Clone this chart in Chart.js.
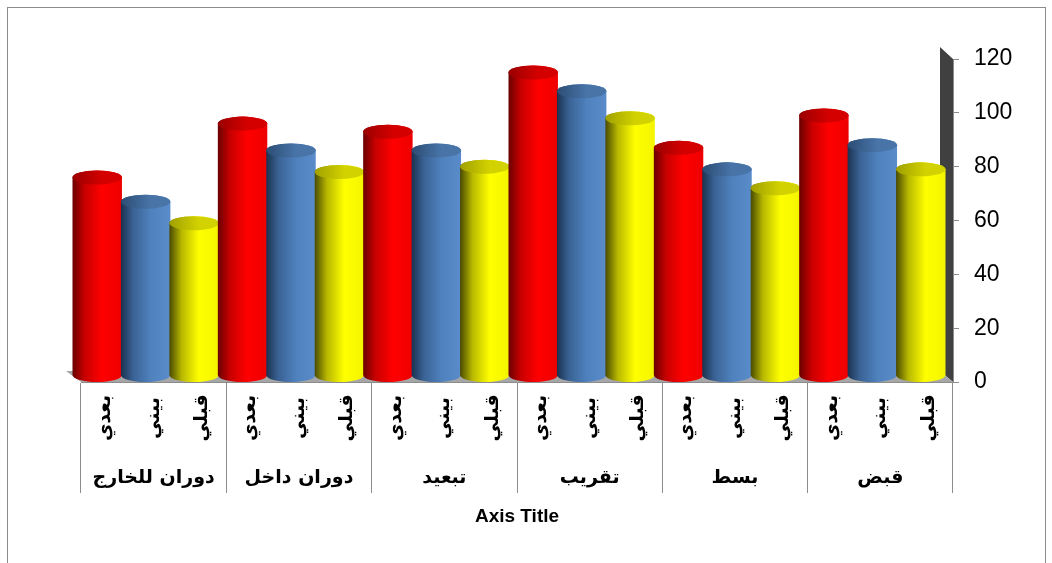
<!DOCTYPE html>
<html lang="ar">
<head>
  <meta charset="UTF-8">
  <title>Cylinder chart</title>
  <script src="https://cdn.jsdelivr.net/npm/chart.js"></script>
  <style>
    html, body { margin: 0; padding: 0; background: #fff; }
    .container { position: relative; width: 1052px; height: 563px; overflow: hidden; }
    .frame { position: absolute; left: 7px; top: 7px; width: 1037px; height: 580px; border: 1px solid #8c8c8c; }
    canvas { position: absolute; left: 0; top: 0; }
  </style>
</head>
<body>
  <div class="container">
    <div class="frame"></div>
    <canvas id="chart" width="1052" height="563"></canvas>
  </div>

  <script>
    // categories, left to right as shown
    const categories = ['دوران للخارج', 'دوران داخل', 'تبعيد', 'تقريب', 'بسط', 'قبض'];
    const seriesNames = ['بعدي', 'بيني', 'قبلي'];
    const postValues = [76, 96, 93, 115, 87, 99];
    const midValues  = [67, 86, 86, 108, 79, 88];
    const preValues  = [59, 78, 80, 98, 72, 79];
    const yMax = 120, yStep = 20;

    // body: dark left edge -> shade -> bright -> edge ; caps a bit darker
    const shades = [
      { dark: '#6a0000', shade: '#c80000', light: '#ff0000', edge: '#ee0000', capL: '#9a0000', capR: '#d40000' },
      { dark: '#1b3250', shade: '#3a6395', light: '#4f81bd', edge: '#5a8ccb', capL: '#2c4d74', capR: '#4874a8' },
      { dark: '#4a4a00', shade: '#b8b800', light: '#ffff00', edge: '#f4f400', capL: '#a0a000', capR: '#d2d200' }
    ];

    function cylinder(ctx, cx, top, bottom, w, c) {
      const rx = w / 2, ry = 7;
      const l = cx - rx, r = cx + rx;
      const g = ctx.createLinearGradient(l, 0, r, 0);
      g.addColorStop(0, c.dark);
      g.addColorStop(0.25, c.shade);
      g.addColorStop(0.6, c.light);
      g.addColorStop(1, c.edge);
      ctx.beginPath();
      ctx.moveTo(l, top);
      ctx.lineTo(l, bottom);
      ctx.ellipse(cx, bottom, rx, ry, 0, Math.PI, 0, true);
      ctx.lineTo(r, top);
      ctx.ellipse(cx, top, rx, ry, 0, 0, -Math.PI, true);
      ctx.closePath();
      ctx.fillStyle = g;
      ctx.fill();

      const cg = ctx.createLinearGradient(l, 0, r, 0);
      cg.addColorStop(0, c.capL);
      cg.addColorStop(0.6, c.capR);
      cg.addColorStop(1, c.capR);
      ctx.beginPath();
      ctx.ellipse(cx, top, rx, ry, 0, 0, Math.PI * 2);
      ctx.fillStyle = cg;
      ctx.fill();
    }

    const cylinders = {
      id: 'cylinders',
      beforeDatasetsDraw(chart) {
        const { ctx, chartArea: a } = chart;
        ctx.save();
        // back wall on the right
        ctx.fillStyle = '#404040';
        ctx.beginPath();
        ctx.moveTo(a.right - 13, a.top - 12);
        ctx.lineTo(a.right, a.top);
        ctx.lineTo(a.right, a.bottom);
        ctx.lineTo(a.right - 13, a.bottom - 11);
        ctx.closePath();
        ctx.fill();
        // floor
        ctx.fillStyle = '#a6a6a6';
        ctx.beginPath();
        ctx.moveTo(a.left - 15, a.bottom - 11);
        ctx.lineTo(a.right - 13, a.bottom - 11);
        ctx.lineTo(a.right, a.bottom);
        ctx.lineTo(a.left, a.bottom);
        ctx.closePath();
        ctx.fill();
        ctx.restore();
      },
      afterDatasetsDraw(chart) {
        const ctx = chart.ctx;
        const base = chart.scales.y.getPixelForValue(0);
        ctx.save();
        for (let j = 0; j < categories.length; j++) {
          chart.data.datasets.forEach((ds, i) => {
            const bar = chart.getDatasetMeta(i).data[j];
            cylinder(ctx, bar.x - 8, bar.y, base - 7, bar.width + 1, shades[i]);
          });
        }
        // rotated series names under each bar
        ctx.fillStyle = '#000';
        ctx.font = 'bold 19px "DejaVu Sans"';
        ctx.textAlign = 'center';
        ctx.textBaseline = 'middle';
        chart.data.datasets.forEach((ds, i) => {
          chart.getDatasetMeta(i).data.forEach(bar => {
            ctx.save();
            ctx.translate(bar.x, 418);
            ctx.rotate(-Math.PI / 2);
            ctx.fillText(ds.label, 0, 0);
            ctx.restore();
          });
        });
        ctx.restore();
      }
    };

    new Chart(document.getElementById('chart'), {
      type: 'bar',
      data: {
        labels: categories,
        datasets: [
          { label: seriesNames[0], data: postValues, backgroundColor: 'rgba(0,0,0,0)' },
          { label: seriesNames[1], data: midValues, backgroundColor: 'rgba(0,0,0,0)' },
          { label: seriesNames[2], data: preValues, backgroundColor: 'rgba(0,0,0,0)' }
        ]
      },
      options: {
        responsive: false,
        animation: false,
        barPercentage: 1,
        categoryPercentage: 1,
        layout: { padding: { left: 81, top: 59, right: 0, bottom: 0 } },
        plugins: { legend: { display: false }, tooltip: { enabled: false } },
        scales: {
          x: {
            offset: true,
            grid: { offset: true, drawOnChartArea: false, color: '#8c8c8c', tickLength: 111 },
            border: { color: '#8c8c8c' },
            ticks: {
              padding: -26, color: '#000', maxRotation: 0, autoSkip: false,
              font: { family: 'DejaVu Sans', size: 19, weight: 'bold' }
            },
            title: {
              display: true, text: 'Axis Title', color: '#000',
              font: { family: 'Liberation Sans', size: 19, weight: 'bold' },
              padding: { top: 0, bottom: 35 }
            },
            afterFit(s) { s.height = 181; }
          },
          y: {
            position: 'right',
            min: 0, max: yMax,
            ticks: { stepSize: yStep, padding: 15, color: '#000', font: { family: 'Liberation Sans', size: 23 } },
            grid: { drawOnChartArea: false, tickLength: 6, color: '#8c8c8c' },
            border: { color: '#8c8c8c' },
            afterFit(s) { s.width = 99; }
          }
        }
      },
      plugins: [cylinders]
    });
  </script>
</body>
</html>
